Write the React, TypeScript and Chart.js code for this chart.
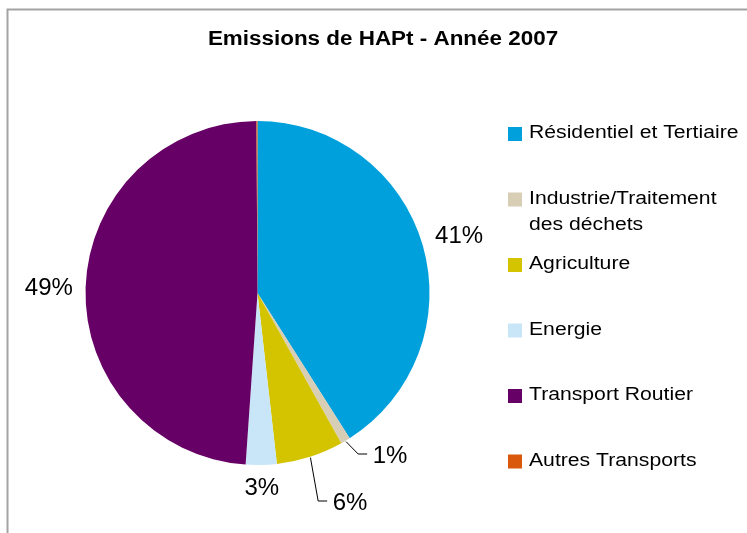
import React, { useEffect, useRef } from "react";
import { Chart, registerables } from "chart.js";

Chart.register(...registerables);

const chartTitle = "Emissions de HAPt - Année 2007";
const categories = [
  "Résidentiel et Tertiaire",
  "Industrie/Traitement des déchets",
  "Agriculture",
  "Energie",
  "Transport Routier",
  "Autres Transports",
];
const shares = [41.0, 0.9, 6.3, 2.9, 48.8, 0.1];
const sliceColors = ["#00A0DC", "#D8CDB5", "#D4C400", "#C8E6F8", "#660066", "#D9580C"];

const FONT = '"Liberation Sans", Arial, Helvetica, sans-serif';

// Labels moved off the slice with a leader line (offset of label centre from pie centre)
const leaderLabels: Record<number, { dx: number; dy: number }> = {
  1: { dx: 132.5, dy: 161 },
  2: { dx: 92.5, dy: 208 },
};

function drawScaledText(
  ctx: CanvasRenderingContext2D,
  text: string,
  x: number,
  y: number,
  sx: number,
  align: CanvasTextAlign
) {
  ctx.save();
  ctx.translate(x, y);
  ctx.scale(sx, 1);
  ctx.textAlign = align;
  ctx.textBaseline = "alphabetic";
  ctx.fillText(text, 0, 0);
  ctx.restore();
}

function wrap(ctx: CanvasRenderingContext2D, text: string, maxW: number, sx: number) {
  const words = text.split(" ");
  const lines: string[] = [];
  let cur = "";
  for (const w of words) {
    const t = cur ? cur + " " + w : w;
    if (ctx.measureText(t).width * sx > maxW && cur) {
      lines.push(cur);
      cur = w;
    } else cur = t;
  }
  if (cur) lines.push(cur);
  return lines;
}

const decorPlugin = {
  id: "decor",
  beforeDraw(chart: any) {
    const ctx: CanvasRenderingContext2D = chart.ctx;
    ctx.save();
    ctx.fillStyle = "#ffffff";
    ctx.fillRect(0, 0, chart.width, chart.height);
    ctx.strokeStyle = "#a3a3a3";
    ctx.lineWidth = 2;
    ctx.beginPath();
    ctx.moveTo(7.5, chart.height + 5);
    ctx.lineTo(7.5, 9.5);
    ctx.lineTo(chart.width + 5, 9.5);
    ctx.stroke();
    ctx.restore();
  },
  afterDraw(chart: any) {
    const ctx: CanvasRenderingContext2D = chart.ctx;
    ctx.save();
    ctx.fillStyle = "#000000";

    // Title
    ctx.font = `bold 19.5px ${FONT}`;
    drawScaledText(ctx, chartTitle, 383, 45, 1.15, "center");

    // Legend
    const legSx = 1.21;
    ctx.font = `17.5px ${FONT}`;
    categories.forEach((label, i) => {
      const top = 127 + i * 65.5;
      ctx.fillStyle = sliceColors[i];
      ctx.fillRect(508, top, 14, 14);
      ctx.fillStyle = "#000000";
      const lines = wrap(ctx, label, 220, legSx);
      lines.forEach((ln, j) => {
        drawScaledText(ctx, ln, 529, top + 11 + j * 26.3, legSx, "left");
      });
    });

    // Percentage labels
    const meta = chart.getDatasetMeta(0);
    const total = shares.reduce((a, b) => a + b, 0);
    ctx.font = `24px ${FONT}`;
    meta.data.forEach((arc: any, i: number) => {
      const pct = Math.round((shares[i] / total) * 100);
      if (pct < 1) return;
      const text = pct + "%";
      const cx = arc.x;
      const cy = arc.y;
      const r = arc.outerRadius;
      const mid = (arc.startAngle + arc.endAngle) / 2;
      const dx = Math.cos(mid);
      const dy = Math.sin(mid);
      const w = ctx.measureText(text).width;
      const hh = 0.358 * 24;
      const ov = leaderLabels[i];
      let lx: number, ly: number;
      if (ov) {
        lx = cx + ov.dx;
        ly = cy + ov.dy;
        const left = lx - w / 2;
        ctx.strokeStyle = "#000000";
        ctx.lineWidth = 1;
        ctx.beginPath();
        ctx.moveTo(cx + dx * (r + 1), cy + dy * (r + 1));
        ctx.lineTo(left - 14.5, ly);
        ctx.lineTo(left - 5.5, ly);
        ctx.stroke();
      } else {
        const d = r + 12.5 + Math.abs(dx) * (w / 2) + Math.abs(dy) * hh;
        lx = cx + dx * d;
        ly = cy + dy * d;
      }
      ctx.fillStyle = "#000000";
      drawScaledText(ctx, text, lx, ly + hh, 1, "center");
    });
    ctx.restore();
  },
};

export default function App() {
  const ref = useRef<HTMLCanvasElement | null>(null);
  useEffect(() => {
    if (!ref.current) return;
    const chart = new Chart(ref.current, {
      type: "pie",
      data: {
        labels: categories,
        datasets: [
          {
            data: shares,
            backgroundColor: sliceColors,
            borderWidth: 0,
          },
        ],
      },
      options: {
        responsive: false,
        animation: false,
        devicePixelRatio: 1,
        layout: { padding: { left: 85.5, right: 317.5, top: 121, bottom: 68 } },
        plugins: {
          legend: { display: false },
          title: { display: false },
          tooltip: { enabled: false },
        },
      },
      plugins: [decorPlugin],
    });
    return () => chart.destroy();
  }, []);
  return (
    <div style={{ position: "fixed", left: 0, top: 0, width: 747, height: 533, background: "#fff" }}>
      <canvas ref={ref} width={747} height={533} style={{ display: "block" }} />
    </div>
  );
}
